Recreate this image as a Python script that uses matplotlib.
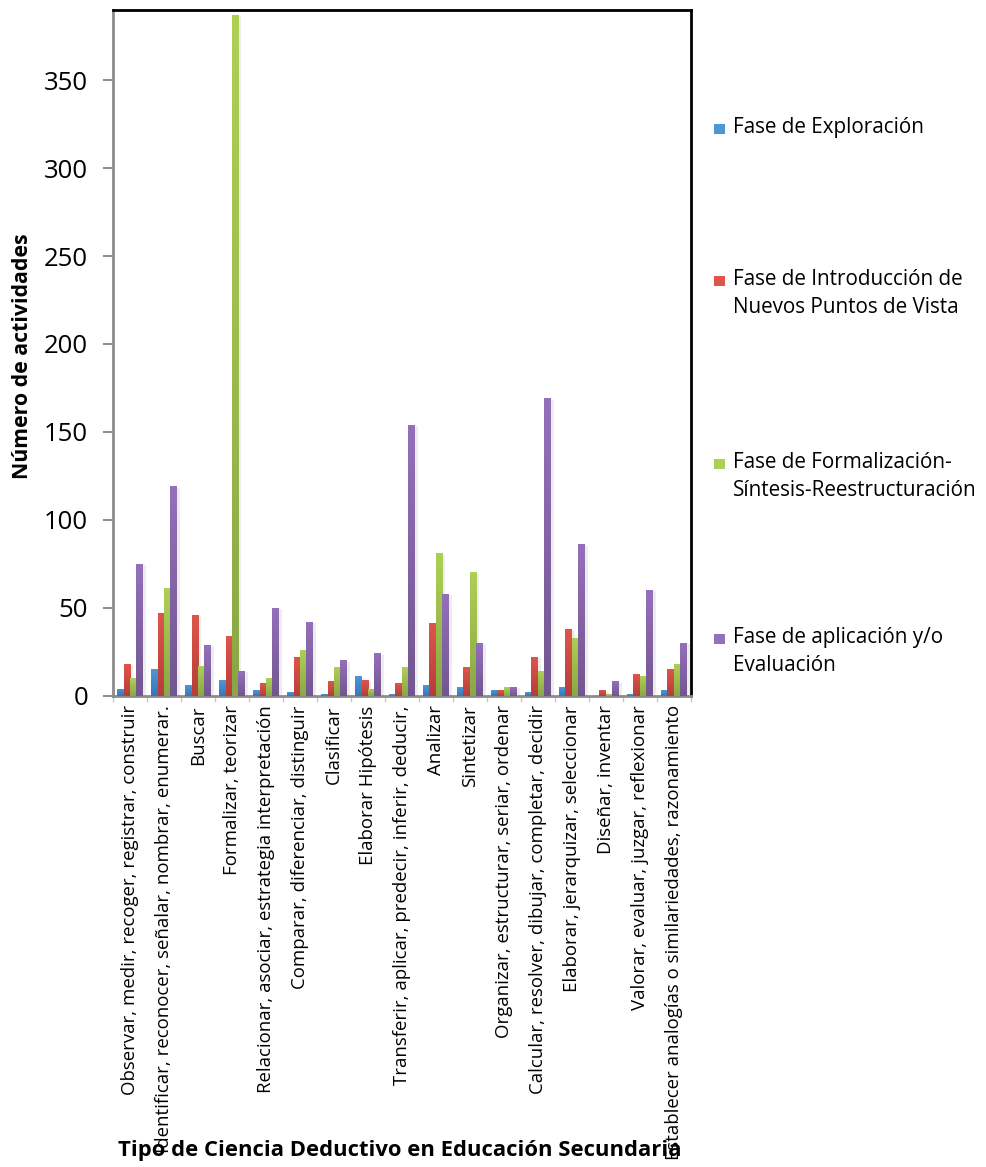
import numpy as np
import matplotlib
matplotlib.use("Agg")
import matplotlib.pyplot as plt
from matplotlib.colors import LinearSegmentedColormap
from matplotlib.patches import Rectangle
import matplotlib.patheffects as pe

plt.rcParams['font.family'] = ['Open Sans', 'DejaVu Sans']

categories = [
    "Observar, medir, recoger, registrar, construir",
    "Identificar, reconocer, señalar, nombrar, enumerar.",
    "Buscar",
    "Formalizar, teorizar",
    "Relacionar, asociar, estrategia interpretación",
    "Comparar, diferenciar, distinguir",
    "Clasificar",
    "Elaborar Hipótesis",
    "Transferir, aplicar, predecir, inferir, deducir,",
    "Analizar",
    "Sintetizar",
    "Organizar, estructurar, seriar, ordenar",
    "Calcular, resolver, dibujar, completar, decidir",
    "Elaborar, jerarquizar, seleccionar",
    "Diseñar, inventar",
    "Valorar, evaluar, juzgar, reflexionar",
    "Establecer analogías o similariedades, razonamiento",
]

series_names = [
    "Fase de Exploración",
    "Fase de Introducción de\nNuevos Puntos de Vista",
    "Fase de Formalización-\nSíntesis-Reestructuración",
    "Fase de aplicación y/o\nEvaluación",
]

exploracion = [4, 15, 6, 9, 3, 2, 1, 11, 1, 6, 5, 3, 2, 5, 0, 1, 3]
introduccion = [18, 47, 46, 34, 7, 22, 8, 9, 7, 41, 16, 3, 22, 38, 3, 12, 15]
formalizacion = [10, 61, 17, 387, 10, 26, 16, 4, 16, 81, 70, 5, 14, 33, 1, 11, 18]
aplicacion = [75, 119, 29, 14, 50, 42, 20, 24, 154, 58, 30, 5, 169, 86, 8, 60, 30]

series_values = [exploracion, introduccion, formalizacion, aplicacion]

# (dark bottom, light top) for each series' gradient fill
series_colors = [
    ("#3776b8", "#4d97d8"),
    ("#b53e38", "#de564b"),
    ("#8aa746", "#aed055"),
    ("#72568f", "#9470bb"),
]

y_ticks = [0, 50, 100, 150, 200, 250, 300, 350]

fig = plt.figure(figsize=(9.87, 11.67), dpi=100)
ax = fig.add_axes([0.1145, 0.404, 0.5855, 0.5874])

n = len(categories)
x = np.arange(n)
width = 0.19
offsets = (np.arange(4) - 1.5) * width

grad = np.linspace(0, 1, 256).reshape(-1, 1)
shadow = [pe.SimplePatchShadow(offset=(2, -1), shadow_rgbFace='#000000', alpha=0.07), pe.Normal()]

for vals, (dark, light), off in zip(series_values, series_colors, offsets):
    bars = ax.bar(x + off, vals, width=width, color=light, linewidth=0, zorder=2)
    cmap = LinearSegmentedColormap.from_list("g", [dark, light])
    for b in bars:
        h = b.get_height()
        if h <= 0:
            continue
        b.set_path_effects(shadow)
        x0 = b.get_x()
        im = ax.imshow(grad, extent=[x0, x0 + b.get_width(), 0, h], origin='lower',
                       cmap=cmap, aspect='auto', zorder=3, interpolation='bilinear')
        im.set_clip_path(b)

ax.set_xlim(-0.5, n - 0.5)
ax.set_ylim(0, 390)
ax.set_yticks(y_ticks)
ax.set_yticklabels([str(v) for v in y_ticks], fontsize=18.5)
ax.tick_params(axis='y', length=7, width=1.5, color='#8c8c8c', pad=11)

ax.set_xticks(x)
ax.set_xticklabels(categories, rotation=90, fontsize=13.4, ha='center', va='top')
ax.tick_params(axis='x', length=0, pad=7)
ax.set_xticks(np.arange(n + 1) - 0.5, minor=True)
ax.tick_params(axis='x', which='minor', length=4, width=1, color='#c8c8c8')

for side in ('left', 'bottom'):
    ax.spines[side].set_color('#8c8c8c')
    ax.spines[side].set_linewidth(2)
for side in ('top', 'right'):
    ax.spines[side].set_color('#000000')
    ax.spines[side].set_linewidth(2)

ax.set_ylabel("Número de actividades", fontsize=15.3, fontweight='bold')
ax.yaxis.set_label_coords(-0.138, 0.495)
ax.set_xlabel("Tipo de Ciencia Deductivo en Educación Secundaria", fontsize=15.8, fontweight='bold')
ax.xaxis.set_label_coords(0.497, -0.648)

# Legend: colour squares with labels spread down the right side
legend_y_px = [129, 281, 464, 639]
W, H = 987, 1167
for name, (dark, light), ypx in zip(series_names, series_colors, legend_y_px):
    yc = 1 - ypx / H
    fig.patches.append(Rectangle((714 / W, yc - 5 / H), 11 / W, 10 / H,
                                 transform=fig.transFigure, facecolor=light,
                                 edgecolor='none'))
    fig.text(733 / W, yc + 12 / H, name, fontsize=14.9, ha='left', va='top',
             linespacing=1.42)

fig.savefig("out.png", dpi=100)
